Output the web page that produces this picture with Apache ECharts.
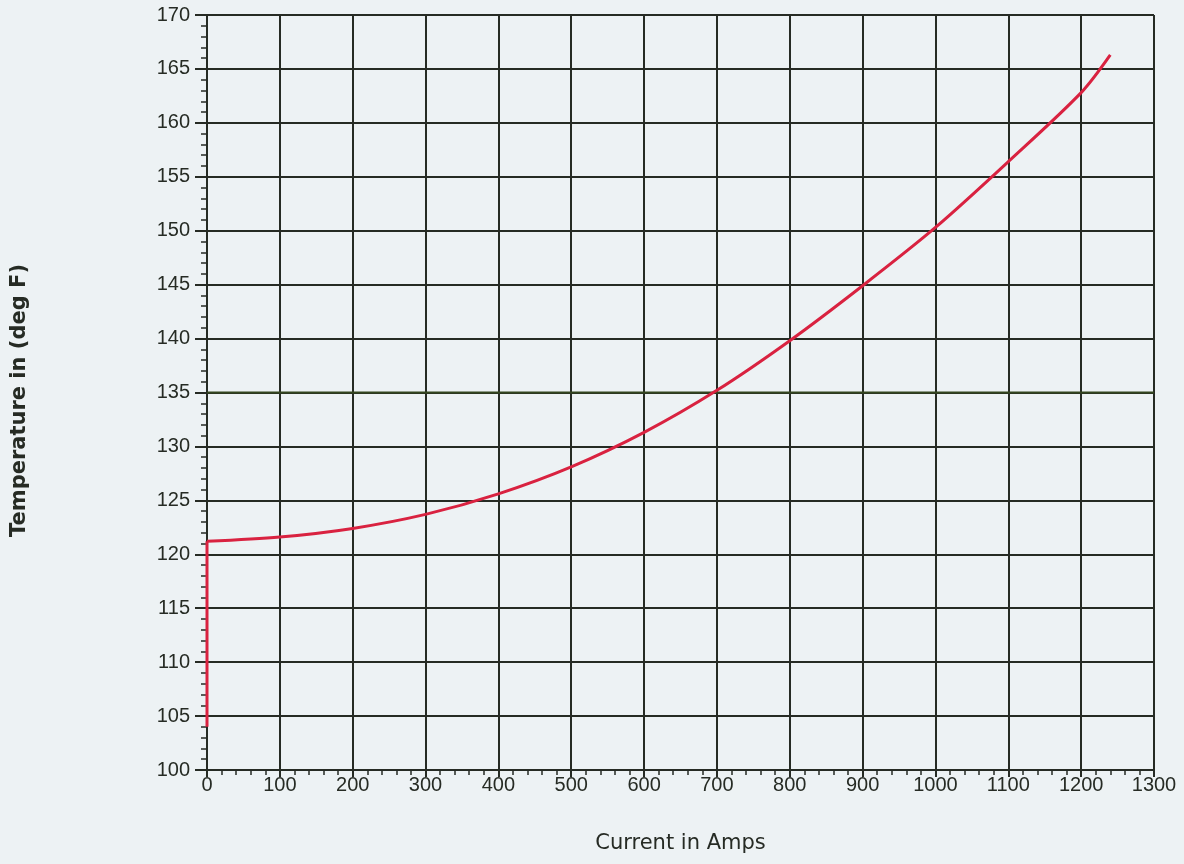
<!DOCTYPE html>
<html>
<head>
<meta charset="utf-8">
<script src="https://cdn.jsdelivr.net/npm/echarts@6/dist/echarts.min.js"></script>
<style>
  html, body { margin: 0; padding: 0; background: #edf2f4; }
  #chart { width: 1184px; height: 864px; }
</style>
</head>
<body>
<div id="chart"></div>
<script>
// ---- data ----
const currentAmps = [0, 100, 200, 300, 400, 500, 600, 700, 800, 900, 1000, 1100, 1200, 1240];
const temperatureF = [121.2, 121.6, 122.4, 123.7, 125.6, 128.1, 131.3, 135.2, 139.8, 144.9, 150.3, 156.4, 162.8, 166.3];
const riseAmps = [0, 0];
const riseTemp = [104, 121.2];
const referenceTemp = 135;
const xTicks = { min: 0, max: 1300, step: 100 };
const yTicks = { min: 100, max: 170, step: 5 };
const xTitle = 'Current in Amps';
const yTitle = 'Temperature in (deg F)';

const curve = currentAmps.map((x, i) => [x, temperatureF[i]]);
const rise = riseAmps.map((x, i) => [x, riseTemp[i]]);

const ink = '#262b24';
const font = '"Liberation Sans", Arial, sans-serif';
const titleFont = '"DejaVu Sans", Verdana, sans-serif';

const chart = echarts.init(document.getElementById('chart'));
chart.setOption({
  backgroundColor: '#edf2f4',
  animation: false,
  grid: { left: 207, right: 30, top: 15, bottom: 94 },
  xAxis: {
    type: 'value',
    min: xTicks.min, max: xTicks.max, interval: xTicks.step,
    name: xTitle, nameLocation: 'middle', nameGap: 63,
    nameTextStyle: { fontFamily: titleFont, fontSize: 21, color: ink },
    axisLine: { show: true, lineStyle: { color: ink, width: 2 } },
    axisTick: { show: true, length: 7, lineStyle: { color: ink, width: 2 } },
    minorTick: { show: true, splitNumber: 5, length: 5, lineStyle: { color: ink, width: 1.5 } },
    axisLabel: { fontFamily: font, fontSize: 20, color: ink, margin: 5, formatter: v => String(v) },
    splitLine: { show: true, lineStyle: { color: ink, width: 2 } }
  },
  yAxis: {
    type: 'value',
    min: yTicks.min, max: yTicks.max, interval: yTicks.step,
    name: yTitle, nameLocation: 'middle', nameRotate: 90, nameGap: 177,
    nameTextStyle: { fontFamily: titleFont, fontSize: 21, fontWeight: 'bold', color: ink, padding: [0, 16, 0, 0] },
    axisLine: { show: true, lineStyle: { color: ink, width: 2 } },
    axisTick: { show: true, length: 12, lineStyle: { color: ink, width: 2 } },
    minorTick: { show: true, splitNumber: 5, length: 6, lineStyle: { color: ink, width: 1.5 } },
    axisLabel: { fontFamily: font, fontSize: 20, color: ink, margin: 17, formatter: v => String(v) },
    splitLine: { show: true, lineStyle: { color: ink, width: 2 } }
  },
  series: [
    {
      type: 'line',
      data: [[xTicks.min, referenceTemp], [xTicks.max, referenceTemp]],
      symbol: 'none',
      lineStyle: { color: '#34461f', width: 2 },
      z: 3
    },
    {
      type: 'line',
      data: rise,
      symbol: 'none',
      lineStyle: { color: '#d92240', width: 3 },
      z: 4
    },
    {
      type: 'line',
      data: curve,
      symbol: 'none',
      smooth: 0.3,
      lineStyle: { color: '#d92240', width: 3 },
      z: 4
    }
  ]
});
</script>
</body>
</html>
